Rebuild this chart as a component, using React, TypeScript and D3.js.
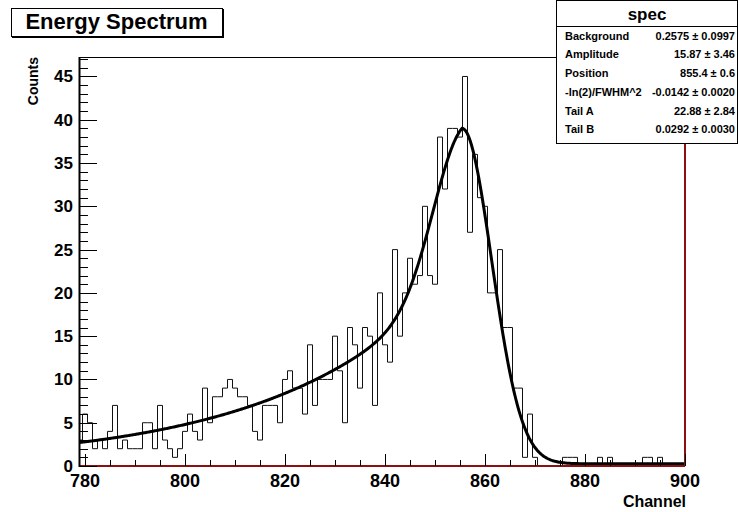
import React from 'react';
import * as d3 from 'd3';

// histogram contents, one entry per channel starting at FIRST_CHANNEL (bins centred on integers)
const FIRST_CHANNEL = 779;
const counts = [
  3, 6, 5, 2, 3, 2, 4, 7, 2, 3, // 779-788
  2, 2, 2, 5, 5, 2, 7, 3, 2, 1, // 789-798
  2, 4, 6, 4, 3, 9, 5, 8, 8, 9, // 799-808
  10, 9, 8, 8, 7, 4, 3, 7, 7, 7, // 809-818
  5, 10, 11, 9, 9, 6, 14, 7, 10, 10, // 819-828
  10, 15, 11, 5, 16, 14, 9, 16, 15, 7, // 829-838
  20, 14, 12, 25, 15, 20, 24, 21, 22, 30, // 839-848
  22, 21, 38, 32, 39, 39, 38, 45, 27, 36, // 849-858
  31, 30, 20, 20, 25, 16, 16, 9, 9, 1, // 859-868
  6, 1, 0, 0, 0, 0, 0, 1, 1, 1, // 869-878
  0, 0, 0, 0, 1, 0, 1, 0, 0, 0, // 879-888
  0, 0, 0, 1, 1, 0, 1, 0, 0, 0, // 889-898
  0, 0, // 899-900
];

const xTicks = [780, 800, 820, 840, 860, 880, 900];
const yTicks = [0, 5, 10, 15, 20, 25, 30, 35, 40, 45];

// fit results shown in the stats box
const statNames = ['Background', 'Amplitude', 'Position', '-ln(2)/FWHM^2', 'Tail A', 'Tail B'];
const statValues = ['0.2575 \u00b1 0.0997', '15.87 \u00b1 3.46', '855.4 \u00b1 0.6', '-0.0142 \u00b1 0.0020', '22.88 \u00b1 2.84', '0.0292 \u00b1 0.0030'];
const fitParams = { bg: 0.2575, amp: 15.87, pos: 855.4, k: -0.0142, tailA: 22.88, tailB: 0.0292 };

const FONT = '"Liberation Sans", Arial, Helvetica, sans-serif';
const W = 738;
const H = 512;
const frame = { left: 80, right: 685, top: 57, bottom: 466 };

// gaussian peak with an exponential low-energy tail
const fitFn = (ch: number) => {
  const d = ch - fitParams.pos;
  const g = Math.exp(fitParams.k * d * d);
  if (d < 0) return fitParams.bg + fitParams.amp * g + fitParams.tailA * Math.exp(fitParams.tailB * d);
  return fitParams.bg + (fitParams.amp + fitParams.tailA) * g;
};

export default function App() {
  const x = d3.scaleLinear().domain([779, 900]).range([frame.left, frame.right]);
  const y = d3.scaleLinear().domain([0, 47.25]).range([frame.bottom, frame.top]);

  const lastCh = FIRST_CHANNEL + counts.length - 1;
  const steps: [number, number][] = counts.map((c, i) => [FIRST_CHANNEL + i - 0.5, c]);
  steps.push([lastCh + 0.5, counts[counts.length - 1]]);
  const histPath = d3.line<[number, number]>()
    .x(d => x(d[0]))
    .y(d => y(d[1]))
    .curve(d3.curveStepAfter)(steps) || '';

  const fitPath = d3.line<number>()
    .x(d => x(d))
    .y(d => y(fitFn(d)))(d3.range(779, 900.01, 0.2)) || '';

  const xMinor = d3.range(780, 901, 5);
  const yMinor = d3.range(0, 48, 1);

  return (
    <svg width={W} height={H} style={{ position: 'fixed', left: 0, top: 0, background: '#fff' }}
      fontFamily={FONT}>
      <rect x={0} y={0} width={W} height={H} fill="#fff" />
      <defs>
        <clipPath id="frameClip">
          <rect x={frame.left} y={frame.top} width={frame.right - frame.left} height={frame.bottom - frame.top} />
        </clipPath>
      </defs>

      {/* frame: top and left black */}
      <line x1={frame.left} x2={frame.right} y1={frame.top + 0.5} y2={frame.top + 0.5} stroke="#000" strokeWidth={1} />

      {/* histogram + fit */}
      <g clipPath="url(#frameClip)">
        <path d={histPath} fill="none" stroke="#111" strokeWidth={1} />
        <path d={fitPath} fill="none" stroke="#000" strokeWidth={3} />
      </g>

      {/* right and bottom frame lines (dark red) */}
      <line x1={frame.right} x2={frame.right} y1={frame.top} y2={frame.bottom} stroke="#8b1010" strokeWidth={2} />
      <line x1={frame.left} x2={frame.right} y1={frame.bottom} y2={frame.bottom} stroke="#8b1010" strokeWidth={2} />

      {/* y axis */}
      <line x1={frame.left - 0.5} x2={frame.left - 0.5} y1={frame.top} y2={frame.bottom + 1} stroke="#000" strokeWidth={2} />
      {yMinor.map(v => (
        <line key={'ym' + v} x1={frame.left} x2={frame.left + (v % 5 === 0 ? 17 : 8)}
          y1={Math.round(y(v)) + 0.5} y2={Math.round(y(v)) + 0.5} stroke="#000" strokeWidth={1} />
      ))}
      {yTicks.map(v => (
        <text key={'yl' + v} x={73} y={y(v) + 6} textAnchor="end" fontSize={17} fontWeight="bold">{v}</text>
      ))}
      <text transform={`translate(38, ${frame.top}) rotate(-90)`} textAnchor="end" fontSize={14} fontWeight="bold">Counts</text>

      {/* x axis */}
      {xMinor.map(v => (
        <line key={'xm' + v} x1={Math.round(x(v)) + 0.5} x2={Math.round(x(v)) + 0.5}
          y1={frame.bottom} y2={frame.bottom - ((v - 780) % 20 === 0 ? 12 : 6)} stroke="#000" strokeWidth={1} />
      ))}
      {xTicks.map(v => (
        <text key={'xl' + v} x={x(v)} y={487} textAnchor="middle" fontSize={18} fontWeight="bold">{v}</text>
      ))}
      <text x={686} y={507} textAnchor="end" fontSize={16} fontWeight="bold">Channel</text>

      {/* title box */}
      <rect x={11.5} y={8.5} width={211} height={28} fill="#fff" stroke="#000" strokeWidth={1} />
      <line x1={12} x2={224} y1={37.5} y2={37.5} stroke="#000" strokeWidth={1} />
      <line x1={223.5} x2={223.5} y1={9} y2={38} stroke="#000" strokeWidth={1} />
      <text x={116.5} y={28.5} textAnchor="middle" fontSize={22} fontWeight="bold">Energy Spectrum</text>

      {/* stats box */}
      <rect x={556.5} y={0.5} width={181} height={143} fill="#fff" stroke="#000" strokeWidth={1} />
      <line x1={556.5} x2={737.5} y1={26.5} y2={26.5} stroke="#000" strokeWidth={1} />
      <text x={647} y={20} textAnchor="middle" fontSize={17} fontWeight="bold">spec</text>
      {statNames.map((n, i) => (
        <g key={n}>
          <text x={565} y={39.5 + i * 18.75} fontSize={11} fontWeight="bold">{n}</text>
          <text x={735} y={39.5 + i * 18.75} textAnchor="end" fontSize={11} fontWeight="bold">{statValues[i]}</text>
        </g>
      ))}
    </svg>
  );
}
